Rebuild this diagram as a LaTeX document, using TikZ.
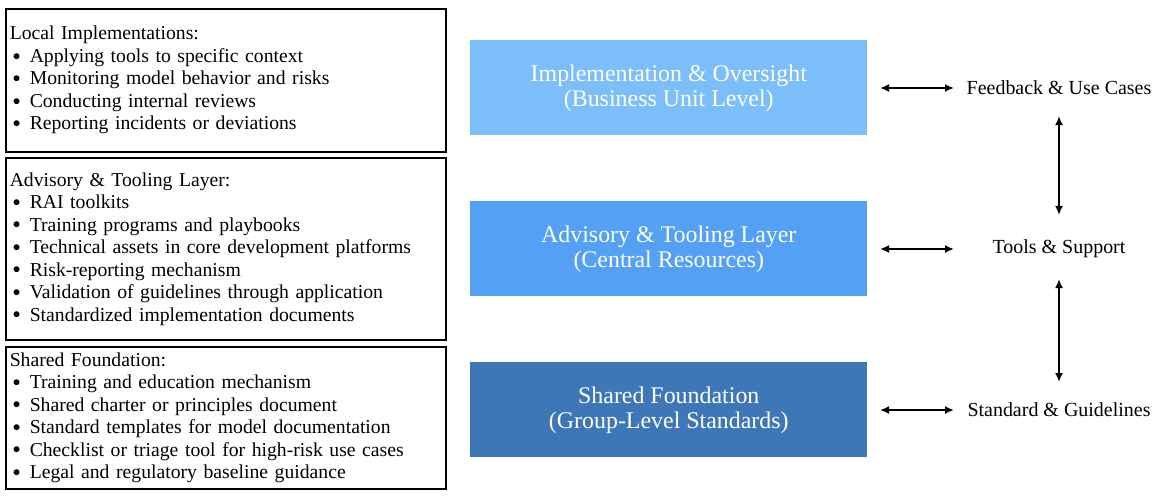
\documentclass[tikz,border=0pt]{standalone}
\usepackage{fontspec}
\setmainfont{Liberation Serif}
\usepackage{tikz}
\usetikzlibrary{arrows.meta}

\definecolor{unitblue}{HTML}{7CBEF9}
\definecolor{centralblue}{HTML}{54A0F5}
\definecolor{groupblue}{HTML}{3D77B8}

\newcommand{\bul}[1]{\makebox[20\unitlength][l]{\hspace{3\unitlength}\raisebox{0.25ex}{\scalebox{0.75}{$\bullet$}}}#1}

\tikzset{
  listbox/.style={draw, line width=1.1pt, rectangle, anchor=north west, align=left,
    text width=432*0.025cm, inner xsep=3.5*0.025cm, inner ysep=0pt,
    minimum width=440*0.025cm, font=\fontsize{14}{16}\selectfont},
  layerbox/.style={rectangle, anchor=north west, align=center, text=white,
    minimum width=397*0.025cm, minimum height=95*0.025cm,
    font=\fontsize{17}{17.8}\selectfont},
  sidelabel/.style={font=\fontsize{14.2}{16}\selectfont},
  link/.style={{Latex[length=9*0.025cm,width=8*0.025cm]}-{Latex[length=9*0.025cm,width=8*0.025cm]}, line width=1.4pt}
}

\begin{document}
\setlength{\unitlength}{0.025cm}
\begin{tikzpicture}[x=0.025cm, y=-0.025cm]

\useasboundingbox (0,0) rectangle (1170,496);

% left lists
\node[listbox, minimum height=143*0.025cm] (local) at (5,8) {Local Implementations:\\
\bul{Applying tools to specific context}\\
\bul{Monitoring model behavior and risks}\\
\bul{Conducting internal reviews}\\
\bul{Reporting incidents or deviations}};

\node[listbox, minimum height=182*0.025cm] (advisory) at (5,157) {Advisory \& Tooling Layer:\\
\bul{RAI toolkits}\\
\bul{Training programs and playbooks}\\
\bul{Technical assets in core development platforms}\\
\bul{Risk-reporting mechanism}\\
\bul{Validation of guidelines through application}\\
\bul{Standardized implementation documents}};

\node[listbox, minimum height=142*0.025cm] (shared) at (5,346) {Shared Foundation:\\
\bul{Training and education mechanism}\\
\bul{Shared charter or principles document}\\
\bul{Standard templates for model documentation}\\
\bul{Checklist or triage tool for high-risk use cases}\\
\bul{Legal and regulatory baseline guidance}};

% layers
\node[layerbox, fill=unitblue] (unit) at (470,40) {Implementation \& Oversight\\(Business Unit Level)};
\node[layerbox, fill=centralblue] (central) at (470,201) {Advisory \& Tooling Layer\\(Central Resources)};
\node[layerbox, fill=groupblue] (group) at (470,362) {Shared Foundation\\(Group-Level Standards)};

% right side
\node[sidelabel] (feedback) at (1059,88) {Feedback \& Use Cases};
\node[sidelabel] (tools) at (1059,249) {Tools \& Support};
\node[sidelabel] (standard) at (1059,410) {Standard \& Guidelines};

\coordinate (fa) at (880,88);
\coordinate (fb) at (954,88);
\coordinate (ta) at (880,249);
\coordinate (tb) at (954,249);
\coordinate (sa) at (880,410);
\coordinate (sb) at (954,410);

\draw[link] (fa) -- (fb);
\draw[link] (ta) -- (tb);
\draw[link] (sa) -- (sb);

\draw[link] ([yshift=-16*0.025cm]feedback.south) -- ([yshift=20*0.025cm]tools.north);
\draw[link] ([yshift=-16*0.025cm]tools.south) -- ([yshift=16*0.025cm]standard.north);

\end{tikzpicture}
\end{document}
